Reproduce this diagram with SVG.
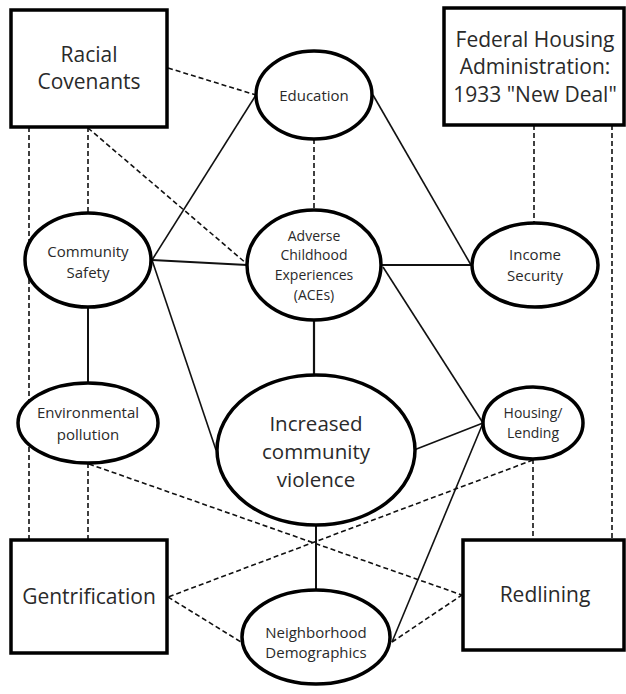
<svg xmlns="http://www.w3.org/2000/svg" width="626" height="694" viewBox="0 0 626 694">
<style>
.box{fill:#fff;stroke:#000;stroke-width:3.5}
.ell{fill:#fff;stroke:#000;stroke-width:3.5}
.sol{stroke:#111;stroke-width:1.6;fill:none}
.dash{stroke:#111;stroke-width:1.6;fill:none;stroke-dasharray:5 3}
text{font-family:"Open Sans","Noto Sans","Liberation Sans",sans-serif;fill:#2a2a2a;text-anchor:middle}
.big{font-size:21px}
.mid{font-size:15px}
.sm{font-size:14px}
.xl{font-size:20.5px}
</style>
<rect width="626" height="694" fill="#fff"/>
<g id="connectors">
<line class="dash" x1="168" y1="68" x2="256" y2="95"/>
<line class="dash" x1="29" y1="127" x2="29" y2="540"/>
<line class="dash" x1="88" y1="127" x2="88" y2="212"/>
<line class="dash" x1="88" y1="128" x2="247" y2="264"/>
<line class="dash" x1="314" y1="139" x2="314" y2="210"/>
<line class="dash" x1="534" y1="125" x2="534" y2="224"/>
<line class="dash" x1="612" y1="125" x2="612" y2="540"/>
<line class="dash" x1="88" y1="463" x2="88" y2="540"/>
<line class="dash" x1="89" y1="464" x2="462" y2="595"/>
<line class="dash" x1="533" y1="459" x2="533" y2="540"/>
<line class="dash" x1="533" y1="460" x2="168" y2="597"/>
<line class="dash" x1="168" y1="597" x2="241" y2="642"/>
<line class="dash" x1="392" y1="642" x2="462" y2="595"/>
<line class="sol" x1="256" y1="95" x2="152" y2="260"/>
<line class="sol" x1="152" y1="260" x2="247" y2="265" style="stroke-width:2"/>
<line class="sol" x1="152" y1="260" x2="216" y2="450"/>
<line class="sol" x1="88" y1="307" x2="88" y2="383" style="stroke-width:2"/>
<line class="sol" x1="373" y1="95" x2="471" y2="265"/>
<line class="sol" x1="382" y1="265" x2="472" y2="265" style="stroke-width:2"/>
<line class="sol" x1="383" y1="267" x2="483" y2="423"/>
<line class="sol" x1="314" y1="320" x2="314" y2="375" style="stroke-width:2.2"/>
<line class="sol" x1="414" y1="450" x2="483" y2="423"/>
<line class="sol" x1="483" y1="423" x2="392" y2="642"/>
<line class="sol" x1="316" y1="525" x2="316" y2="590" style="stroke-width:2"/>
</g>
<g id="racial-covenants">
<rect class="box" x="11" y="10" width="156" height="117"/>
<text class="big" x="89" y="62">Racial</text>
<text class="big" x="89" y="89">Covenants</text>
</g>
<g id="fha">
<rect class="box" x="444" y="8" width="180" height="117"/>
<text class="big" x="535" y="47">Federal Housing</text>
<text class="big" x="535" y="74">Administration:</text>
<text class="big" x="535" y="102">1933 "New Deal"</text>
</g>
<g id="education">
<ellipse class="ell" cx="314" cy="95" rx="58" ry="44"/>
<text class="mid" x="314" y="101">Education</text>
</g>
<g id="aces">
<ellipse class="ell" cx="314" cy="265" rx="67" ry="55"/>
<text class="sm" x="314" y="241">Adverse</text>
<text class="sm" x="314" y="260">Childhood</text>
<text class="sm" x="314" y="280">Experiences</text>
<text class="sm" x="314" y="300">(ACEs)</text>
</g>
<g id="community-safety">
<ellipse class="ell" cx="88" cy="260" rx="63" ry="47"/>
<text class="mid" x="88" y="257">Community</text>
<text class="mid" x="88" y="278">Safety</text>
</g>
<g id="income-security">
<ellipse class="ell" cx="535" cy="265" rx="63" ry="42"/>
<text class="mid" x="535" y="260">Income</text>
<text class="mid" x="535" y="281">Security</text>
</g>
<g id="environmental-pollution">
<ellipse class="ell" cx="88" cy="423" rx="70" ry="40"/>
<text class="mid" x="88" y="418">Environmental</text>
<text class="mid" x="88" y="440">pollution</text>
</g>
<g id="increased-violence">
<ellipse class="ell" cx="316" cy="450" rx="99" ry="75"/>
<text class="xl" x="316" y="431">Increased</text>
<text class="xl" x="316" y="459">community</text>
<text class="xl" x="316" y="487">violence</text>
</g>
<g id="housing-lending">
<ellipse class="ell" cx="533" cy="423" rx="50" ry="36"/>
<text class="sm" x="533" y="418">Housing/</text>
<text class="sm" x="533" y="438">Lending</text>
</g>
<g id="gentrification">
<rect class="box" x="11" y="540" width="156" height="113"/>
<text class="big" x="89" y="604">Gentrification</text>
</g>
<g id="redlining">
<rect class="box" x="463" y="540" width="161" height="110"/>
<text class="big" x="545" y="602">Redlining</text>
</g>
<g id="neighborhood-demographics">
<ellipse class="ell" cx="316" cy="637" rx="74" ry="47"/>
<text class="mid" x="316" y="638">Neighborhood</text>
<text class="mid" x="316" y="658">Demographics</text>
</g>
</svg>
